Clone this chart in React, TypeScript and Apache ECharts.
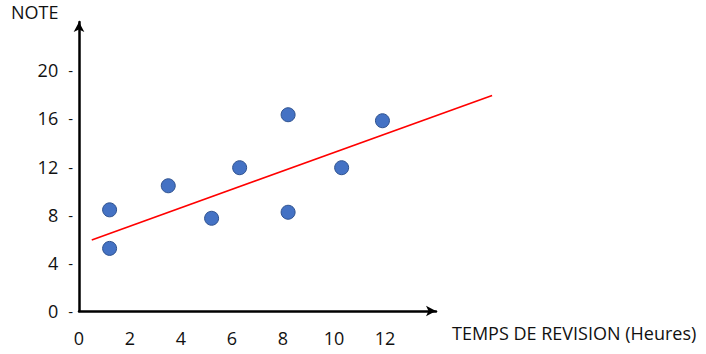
import React, { useEffect, useRef } from "react";
import * as echarts from "echarts";

const hours = [1.2, 1.2, 3.5, 5.2, 6.3, 8.2, 8.2, 10.3, 11.9];
const notes = [8.4, 5.2, 10.4, 7.7, 11.9, 16.3, 8.2, 11.9, 15.8];
const trendX = [0.5, 16.2];
const trendY = [5.9, 17.9];
const xTicks = [0, 2, 4, 6, 8, 10, 12];
const yTicks = [0, 4, 8, 12, 16, 20];
const xTitle = "TEMPS DE REVISION (Heures)";
const yTitle = "NOTE";

const FONT = "'Open Sans', sans-serif";
const TXT = "#111111";
const PX_PER_HOUR = 25.5;

export default function App() {
  const ref = useRef<HTMLDivElement>(null);
  useEffect(() => {
    if (!ref.current) return;
    const chart = echarts.init(ref.current, null, { renderer: "svg" });
    const yBase = {
      type: "value",
      min: 0,
      max: 24,
      interval: 4,
      splitLine: { show: false },
      axisTick: { show: false },
    };
    chart.setOption({
      animation: false,
      backgroundColor: "#ffffff",
      grid: [
        { left: 79, top: 22, width: 14 * PX_PER_HOUR, bottom: 43, containLabel: false },
        { left: 79, top: 22, width: 17 * PX_PER_HOUR, bottom: 43, containLabel: false },
      ],
      xAxis: [
        {
          type: "value",
          gridIndex: 0,
          min: 0,
          max: 14,
          interval: 2,
          splitLine: { show: false },
          axisTick: { show: false },
          axisLine: {
            show: true,
            lineStyle: { color: "#000", width: 2.5 },
            symbol: ["none", "arrow"],
            symbolSize: [8, 10],
          },
          axisLabel: {
            margin: 18,
            fontSize: 18,
            fontFamily: FONT,
            color: TXT,
            formatter: (v: number) => (xTicks.includes(v) ? String(v) : ""),
          },
        },
        {
          type: "value",
          gridIndex: 1,
          min: 0,
          max: 17,
          show: false,
        },
      ],
      yAxis: [
        {
          ...yBase,
          gridIndex: 0,
          axisLine: {
            show: true,
            lineStyle: { color: "#000", width: 2.5 },
            symbol: ["none", "arrow"],
            symbolSize: [8, 10],
          },
          axisLabel: {
            margin: 6,
            fontSize: 18,
            fontFamily: FONT,
            color: TXT,
            formatter: (v: number) => (yTicks.includes(v) ? `{n|${v}}{d|-}` : ""),
            rich: {
              n: { fontSize: 18, fontFamily: FONT, color: TXT },
              d: { fontSize: 15, fontFamily: FONT, color: TXT, padding: [0, 0, 0, 10] },
            },
          },
        },
        { ...yBase, gridIndex: 1, show: false },
      ],
      graphic: [
        {
          type: "text",
          left: 11,
          top: 3,
          style: { text: yTitle, fontSize: 18, fontFamily: FONT, fill: TXT },
        },
        {
          type: "text",
          left: 452,
          top: 324,
          style: { text: xTitle, fontSize: 18, fontFamily: FONT, fill: TXT },
        },
      ],
      series: [
        {
          type: "line",
          xAxisIndex: 1,
          yAxisIndex: 1,
          data: trendX.map((x, i) => [x, trendY[i]]),
          showSymbol: false,
          symbol: "none",
          lineStyle: { color: "#ff0000", width: 1.6 },
          z: 2,
        },
        {
          type: "scatter",
          xAxisIndex: 0,
          yAxisIndex: 0,
          data: hours.map((x, i) => [x, notes[i]]),
          symbolSize: 14,
          itemStyle: { color: "#4472C4", borderColor: "#2F528F", borderWidth: 1, opacity: 1 },
          z: 3,
        },
      ],
    });
    return () => chart.dispose();
  }, []);
  return (
    <div
      ref={ref}
      style={{ position: "fixed", left: 0, top: 0, width: 706, height: 354, background: "#fff" }}
    />
  );
}
